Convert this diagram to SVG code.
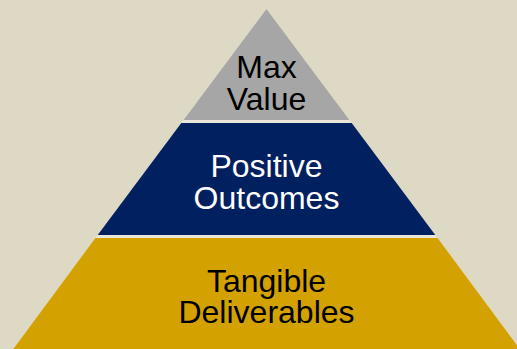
<svg xmlns="http://www.w3.org/2000/svg" width="517" height="349" viewBox="0 0 517 349">
<style>
.t{font-family:"Liberation Sans",Arial,sans-serif;font-size:32px;text-anchor:middle}
</style>
<rect width="517" height="349" fill="#DDD9C4"/>
<polygon points="266.5,9 521,350 12,350" fill="#E9E6DA"/>
<g id="top">
<polygon points="266.5,9 349.4,120 183.6,120" fill="#A6A6A6"/>
<text class="t" x="266.5" y="78" fill="#000">Max</text>
<text class="t" x="266.5" y="110" fill="#000">Value</text>
</g>
<g id="middle">
<polygon points="181.3,123 351.7,123 435.3,235 97.7,235" fill="#002060"/>
<text class="t" x="266.5" y="177" fill="#fff">Positive</text>
<text class="t" x="266.5" y="209" fill="#fff">Outcomes</text>
</g>
<g id="bottom">
<polygon points="95.4,238 437.6,238 520.5,350 12.5,350" fill="#D4A200"/>
<text class="t" x="266.5" y="292" fill="#000">Tangible</text>
<text class="t" x="266.5" y="323" fill="#000">Deliverables</text>
</g>
<g id="connectors"/>
</svg>
